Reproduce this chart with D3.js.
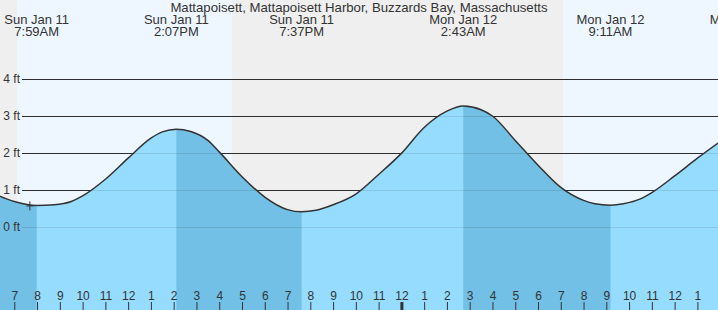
<!DOCTYPE html>
<html>
<head>
<meta charset="utf-8">
<script src="https://cdn.jsdelivr.net/npm/d3@7"></script>
<style>
  body { margin: 0; background: #fff; }
  svg { display: block; font-family: "Liberation Sans", Arial, sans-serif; }
</style>
</head>
<body>
<svg id="chart" width="718" height="310"></svg>
<script>
let title = "Mattapoisett, Mattapoisett Harbor, Buzzards Bay, Massachusetts"

// tide heights (feet)
let tideTimes = [
  "2026-01-11 06:00", "2026-01-11 07:00", "2026-01-11 07:59", "2026-01-11 08:45",
  "2026-01-11 09:30", "2026-01-11 10:00", "2026-01-11 11:00", "2026-01-11 12:00",
  "2026-01-11 13:00", "2026-01-11 13:30", "2026-01-11 14:07", "2026-01-11 14:45",
  "2026-01-11 15:30", "2026-01-11 16:00", "2026-01-11 17:00", "2026-01-11 18:00",
  "2026-01-11 19:00", "2026-01-11 19:37", "2026-01-11 20:15", "2026-01-11 21:00",
  "2026-01-11 22:00", "2026-01-11 23:00", "2026-01-12 00:00", "2026-01-12 01:00",
  "2026-01-12 02:00", "2026-01-12 02:43", "2026-01-12 03:30", "2026-01-12 04:00",
  "2026-01-12 05:00", "2026-01-12 06:00", "2026-01-12 07:00", "2026-01-12 08:00",
  "2026-01-12 08:30", "2026-01-12 09:11", "2026-01-12 09:45", "2026-01-12 10:30",
  "2026-01-12 11:00", "2026-01-12 12:00", "2026-01-12 13:00", "2026-01-12 14:00"
]
let tideHeights = [
  0.93, 0.69, 0.58, 0.60,
  0.69, 0.84, 1.29, 1.86,
  2.40, 2.57, 2.64, 2.58,
  2.34, 2.03, 1.36, 0.81,
  0.47, 0.41, 0.45, 0.60,
  0.89, 1.42, 1.99, 2.69,
  3.13, 3.27, 3.17, 3.00,
  2.34, 1.67, 1.07, 0.72,
  0.63, 0.59, 0.63, 0.76,
  0.93, 1.38, 1.86, 2.31
]

// high / low tides shown on top
let extremeTimes = ["2026-01-11 07:59", "2026-01-11 14:07", "2026-01-11 19:37", "2026-01-12 02:43", "2026-01-12 09:11", "2026-01-12 15:02"]
let extremeDays = ["Sun Jan 11", "Sun Jan 11", "Sun Jan 11", "Mon Jan 12", "Mon Jan 12", "Mon Jan 12"]
let extremeLabels = ["7:59AM", "2:07PM", "7:37PM", "2:43AM", "9:11AM", "3:02PM"]

// falling tide stretches (darker water)
let ebbStarts = ["2026-01-11 01:40", "2026-01-11 14:07", "2026-01-12 02:43"]
let ebbEnds = ["2026-01-11 07:59", "2026-01-11 19:37", "2026-01-12 09:11"]

// daylight
let dayStarts = ["2026-01-11 07:07", "2026-01-12 07:06"]
let dayEnds = ["2026-01-11 16:34", "2026-01-12 16:35"]

let feetTicks = [0, 1, 2, 3, 4]
let nowTime = "2026-01-11 07:41"

let parse = d3.timeParse("%Y-%m-%d %H:%M")
let width = 718
let height = 310

let svg = d3.select('#chart')

let x = d3.scaleTime()
          .domain([parse("2026-01-11 07:00"), parse("2026-01-12 13:00")])
          .range([14.3, 697.4])

let y = d3.scaleLinear()
          .domain([0, 4])
          .range([227, 79])

let tide = tideTimes.map((t, i) => {
    return {time: parse(t), value: tideHeights[i]}
})

// night background, then day bands
svg.append('rect')
    .attr('width', width)
    .attr('height', height)
    .attr('fill', '#efefef')

svg.selectAll('.day')
    .data(dayStarts)
    .enter()
    .append('rect')
    .attr('class', 'day')
    .attr('x', (d) => x(parse(d)))
    .attr('width', (d, i) => x(parse(dayEnds[i])) - x(parse(d)))
    .attr('y', 0)
    .attr('height', height)
    .attr('fill', '#eef7ff')

// grid lines (dark, under the water)
let drawGrid = (cls, color, opacity) => {
    svg.selectAll('.' + cls)
        .data(feetTicks)
        .enter()
        .append('line')
        .attr('class', cls)
        .attr('x1', 22)
        .attr('x2', width)
        .attr('y1', (d) => Math.round(y(d)) + 0.5)
        .attr('y2', (d) => Math.round(y(d)) + 0.5)
        .attr('stroke', color)
        .attr('stroke-opacity', opacity)
        .attr('stroke-width', 1)
}
drawGrid('grid', '#333', 1)

// water
let area = d3.area()
    .x((d) => x(d.time))
    .y0(height)
    .y1((d) => y(d.value))
    .curve(d3.curveMonotoneX)

let line = d3.line()
    .x((d) => x(d.time))
    .y((d) => y(d.value))
    .curve(d3.curveMonotoneX)

svg.append('path')
    .datum(tide)
    .attr('d', area)
    .attr('fill', '#96dcfe')

let defs = svg.append('defs')
ebbStarts.forEach((s, i) => {
    defs.append('clipPath')
        .attr('id', 'ebb' + i)
        .append('rect')
        .attr('x', x(parse(s)))
        .attr('width', x(parse(ebbEnds[i])) - x(parse(s)))
        .attr('y', 0)
        .attr('height', height)
    svg.append('path')
        .datum(tide)
        .attr('d', area)
        .attr('fill', '#72c0e5')
        .attr('clip-path', 'url(#ebb' + i + ')')
})

// faint grid seen through the water
drawGrid('grid2', '#000', 0.1)

svg.selectAll('.ftlabel')
    .data(feetTicks)
    .enter()
    .append('text')
    .attr('class', 'ftlabel')
    .attr('x', 20)
    .attr('y', (d) => y(d) + 4)
    .attr('text-anchor', 'end')
    .attr('font-size', 12)
    .attr('fill', '#333')
    .text((d) => d + ' ft')

svg.append('path')
    .datum(tide)
    .attr('d', line)
    .attr('fill', 'none')
    .attr('stroke', '#333')
    .attr('stroke-width', 1.5)

// current time marker
let nowX = x(parse(nowTime))
let nowY = y(0.57)
svg.append('path')
    .attr('d', 'M' + (nowX - 3.5) + ',' + nowY + 'H' + (nowX + 3.5) + 'M' + nowX + ',' + (nowY - 4.5) + 'V' + (nowY + 4.5))
    .attr('stroke', '#333')
    .attr('stroke-width', 1)

// hour axis along the bottom
let axis = d3.axisTop(x)
    .ticks(d3.timeHour.every(1))
    .tickFormat(d3.timeFormat('%-I'))
    .tickSize(8)
    .tickPadding(2)

let gx = svg.append('g')
    .attr('transform', 'translate(0,' + height + ')')
    .call(axis)

gx.select('.domain').remove()
gx.selectAll('text')
    .attr('font-size', 12)
    .attr('font-family', '"Liberation Sans", Arial, sans-serif')
    .attr('fill', '#333')
gx.selectAll('line')
    .attr('stroke', '#333')
    .attr('stroke-width', (d) => d.getHours() === 0 ? 3 : 1)

// title and tide labels
svg.append('text')
    .attr('x', 359)
    .attr('y', 12)
    .attr('text-anchor', 'middle')
    .attr('font-size', 13.2)
    .attr('fill', '#333')
    .text(title)

let labels = svg.selectAll('.extreme')
    .data(extremeTimes)
    .enter()
    .append('g')
    .attr('class', 'extreme')
    .attr('transform', (d) => 'translate(' + x(parse(d)) + ',0)')

labels.append('text')
    .attr('y', 24)
    .attr('text-anchor', 'middle')
    .attr('font-size', 13)
    .attr('fill', '#333')
    .text((d, i) => extremeDays[i])

labels.append('text')
    .attr('y', 36)
    .attr('text-anchor', 'middle')
    .attr('font-size', 13)
    .attr('fill', '#333')
    .text((d, i) => extremeLabels[i])
</script>
</body>
</html>
